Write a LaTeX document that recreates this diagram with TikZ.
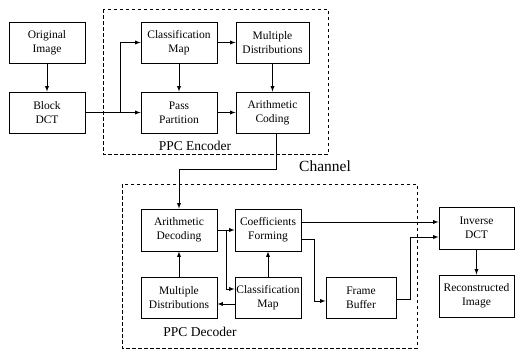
\documentclass[tikz,border=0pt]{standalone}
\usepackage{fontspec}
\setmainfont{Liberation Serif}
\tikzset{
  blk/.style={draw, line width=0.9pt, align=center, inner sep=0.5pt,
    minimum height=41pt, font=\fontsize{11.5}{14}\selectfont},
  arr/.style={-latex, line width=0.9pt},
  enclosure/.style={dashed, dash pattern=on 3.5pt off 2.5pt, line width=0.9pt},
}
\begin{document}
\begin{tikzpicture}[x=1pt, y=-1pt]
\useasboundingbox (0,0) rectangle (515,351);
% encoder side
\node[blk, minimum width=76pt] (orig) at (47,42.5) {Original\\Image};
\node[blk, minimum width=76pt] (dct) at (47,112.5) {Block\\DCT};
\node[blk, minimum width=76pt] (encmap) at (179,42.5) {Classification\\Map};
\node[blk, minimum width=73pt] (encdist) at (272.5,42.5) {Multiple\\Distributions};
\node[blk, minimum width=76pt] (pass) at (179,112.5) {Pass\\Partition};
\node[blk, minimum width=73pt] (arith) at (272.5,112.5) {Arithmetic\\Coding};
\draw[enclosure] (103,9) rectangle (328,154);
\node[font=\fontsize{13.5}{16}\selectfont] (enclbl) at (195,146) {PPC Encoder};
% decoder side
\node[blk, minimum width=76pt, minimum height=42pt] (decarith) at (179,230) {Arithmetic\\Decoding};
\node[blk, minimum width=66pt, minimum height=42pt] (coef) at (268,230) {Coefficients\\Forming};
\node[blk, minimum width=76pt] (decdist) at (179,297.5) {Multiple\\Distributions};
\node[blk, minimum width=66pt] (decmap) at (268,297.5) {Classification\\Map};
\node[blk, minimum width=70pt] (frame) at (361,297.5) {Frame\\Buffer};
\node[blk, minimum width=75pt, minimum height=42pt] (inv) at (476.5,228) {Inverse\\DCT};
\node[blk, minimum width=75pt, minimum height=42pt] (recon) at (476.5,296) {Reconstructed\\Image};
\draw[enclosure] (122,184) rectangle (417,348);
\node[font=\fontsize{13.5}{16}\selectfont] (declbl) at (200,332) {PPC Decoder};
\node[font=\fontsize{15.5}{18}\selectfont] (chlbl) at (325,166) {Channel};
% connectors
\coordinate (split) at (120,112.5);
\coordinate (split2) at (226,230);
\draw[arr] (orig) -- (dct);
\draw[arr] (dct) -- (pass);
\draw[arr] (split) |- (encmap.west);
\draw[arr] (encmap) -- (encdist);
\draw[arr] (encmap) -- (pass);
\draw[arr] (pass) -- (arith);
\draw[arr] (encdist) -- (arith);
\draw[arr] ([xshift=3.5pt]arith.south) -- ++(0,35.5) -| (decarith.north);
\draw[arr] (decarith) -- (coef);
\draw[arr] (split2) |- ([yshift=8.5pt]decmap.west);
\draw[arr] ([yshift=-6.5pt]decmap.west) -- ([yshift=-6.5pt]decdist.east);
\draw[arr] (decdist) -- (decarith);
\draw[arr] (decmap) -- (coef);
\draw[arr] ([yshift=8pt]coef.east) -- ([yshift=8pt]coef.east -| inv.west);
\draw[arr] ([yshift=-9pt]coef.east) -- ++(13,0) |- ([yshift=-3.5pt]frame.west);
\draw[arr] ([yshift=-2pt]frame.east) -- ++(14,0) |- ([yshift=-9pt]inv.west);
\draw[arr] (inv) -- (recon);
\end{tikzpicture}
\end{document}
